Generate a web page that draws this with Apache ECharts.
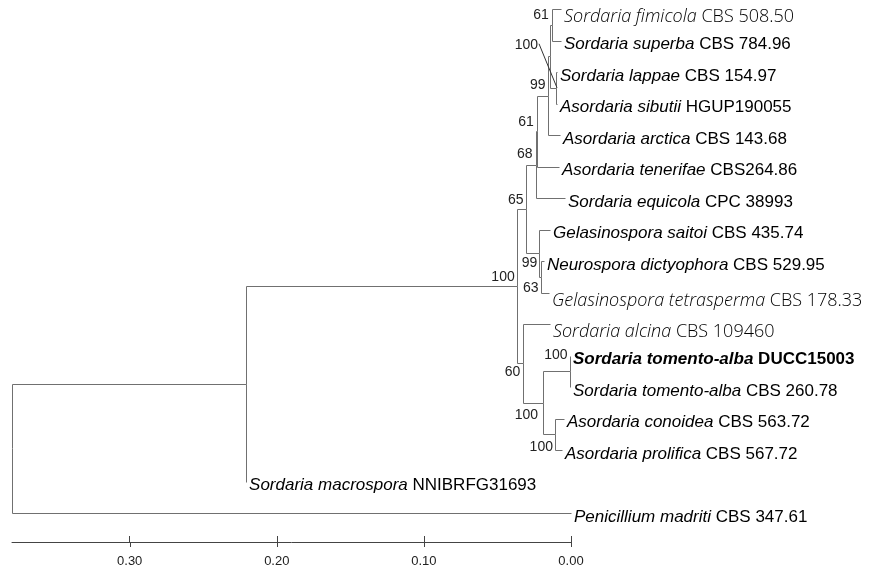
<!DOCTYPE html>
<html lang="en">
<head>
<meta charset="UTF-8">
<title>Sordaria tree</title>
<script src="https://cdn.jsdelivr.net/npm/echarts@6/dist/echarts.min.js"></script>
<style>
  html, body { margin: 0; padding: 0; background: #fff; }
  #chart { width: 893px; height: 572px; }
</style>
</head>
<body>
<div id="chart"></div>
<script>
// tips, top to bottom
var species = [
  'Sordaria fimicola', 'Sordaria superba', 'Sordaria lappae', 'Asordaria sibutii',
  'Asordaria arctica', 'Asordaria tenerifae', 'Sordaria equicola', 'Gelasinospora saitoi',
  'Neurospora dictyophora', 'Gelasinospora tetrasperma', 'Sordaria alcina',
  'Sordaria tomento-alba', 'Sordaria tomento-alba', 'Asordaria conoidea',
  'Asordaria prolifica', 'Sordaria macrospora', 'Penicillium madriti'
];
var strains = [
  'CBS 508.50', 'CBS 784.96', 'CBS 154.97', 'HGUP190055', 'CBS 143.68', 'CBS264.86',
  'CPC 38993', 'CBS 435.74', 'CBS 529.95', 'CBS 178.33', 'CBS 109460', 'DUCC15003',
  'CBS 260.78', 'CBS 563.72', 'CBS 567.72', 'NNIBRFG31693', 'CBS 347.61'
];
// distance of each tip on the scale axis
var tipDepth = [
  0.0068, 0.0068, 0.0095, 0.0095, 0.0075, 0.0082, 0.0041, 0.0143,
  0.0184, 0.0150, 0.0143, 0.0007, 0.0007, 0.0048, 0.0061, 0.2209, 0.0
];
// internal nodes (postorder); child index < 17 is a tip, else 17 + node index
var nodeChildren = [
  [0, 1], [2, 3], [17, 18], [19, 4], [20, 5], [21, 6],
  [8, 9], [7, 23], [22, 24],
  [11, 12], [13, 14], [26, 27], [10, 28],
  [25, 29], [30, 15], [31, 16]
];
var nodeDepth = [
  0.0131, 0.0102, 0.0146, 0.0153, 0.0233, 0.0241,
  0.0207, 0.0215, 0.0309,
  0.0010, 0.0109, 0.0190, 0.0324,
  0.0369, 0.2210, 0.38
];
var support = [
  '61', '100', '', '99', '61', '68',
  '63', '99', '65',
  '100', '100', '100', '60',
  '100', '', ''
];
var scaleTicks = [0, 0.1, 0.2, 0.3];

// styling only
var lightTips = [0, 9, 10];
var boldTip = 11;
var supportOffset = [
  [-3, -10], [-18, -43], [0, 0], [-3, -10], [-3, -9], [-3, -10],
  [-2, 11], [-2, 10], [-2, -9],
  [-2, -16], [-2, 13], [-5, 12], [-3, 9],
  [-2, -9], [0, 0], [0, 0]
];
var leaderNode = 1;
var axisOffset = 29;

var nTip = species.length;
var depth = tipDepth.concat(nodeDepth);
var row = species.map(function (s, i) { return i; });
nodeChildren.forEach(function (ch) {
  row.push((row[ch[0]] + row[ch[1]]) / 2);
});

var edges = [];
nodeChildren.forEach(function (ch, k) {
  var n = nTip + k;
  ch.forEach(function (c) {
    edges.push([depth[n], row[n], depth[c], row[c]]);
  });
});
var tipData = species.map(function (s, i) { return [tipDepth[i], i, i]; });
var supportData = [];
support.forEach(function (s, k) {
  if (s) supportData.push([nodeDepth[k], row[nTip + k], k]);
});

function px(v) { return Math.round(v) + 0.5; }

var chart = echarts.init(document.getElementById('chart'));
chart.setOption({
  animation: false,
  backgroundColor: '#fff',
  grid: { left: 12, right: 322, top: 9, bottom: 59 },
  xAxis: {
    type: 'value', min: 0, max: 0.38, inverse: true, position: 'bottom', offset: axisOffset,
    splitLine: { show: false },
    axisLine: { onZero: false, lineStyle: { color: '#444', width: 1 } },
    axisTick: { inside: true, length: 6, customValues: scaleTicks, lineStyle: { color: '#444' } },
    axisLabel: {
      customValues: scaleTicks, margin: 13, color: '#222', fontSize: 13,
      fontFamily: 'Liberation Sans',
      formatter: function (v) { return v.toFixed(2); }
    }
  },
  yAxis: { type: 'value', min: 0, max: 16, inverse: true, show: false },
  series: [{
    type: 'custom',
    data: edges,
    silent: true,
    renderItem: function (params, api) {
      var a = api.coord([api.value(0), api.value(1)]);
      var b = api.coord([api.value(2), api.value(3)]);
      return {
        type: 'polyline',
        shape: { points: [[px(a[0]), px(a[1])], [px(a[0]), px(b[1])], [px(b[0]), px(b[1])]] },
        style: { stroke: '#707070', lineWidth: 1, fill: null }
      };
    }
  }, {
    // lower half of the scale ticks (they cross the axis line)
    type: 'custom',
    data: scaleTicks.map(function (v) { return [v, 16]; }),
    silent: true,
    renderItem: function (params, api) {
      var p = api.coord([api.value(0), api.value(1)]);
      var y = Math.round(p[1]) + axisOffset;
      return {
        type: 'line',
        shape: { x1: px(p[0]), y1: y, x2: px(p[0]), y2: y + 5 },
        style: { stroke: '#444', lineWidth: 1 }
      };
    }
  }, {
    type: 'custom',
    data: tipData,
    silent: true,
    renderItem: function (params, api) {
      var i = api.value(2);
      var p = api.coord([api.value(0), api.value(1)]);
      var light = lightTips.indexOf(i) >= 0;
      var bold = i === boldTip;
      var fam = light ? 'Open Sans' : 'Liberation Sans';
      var size = light ? 18 : 17;
      var w = bold ? 'bold' : (light ? 300 : 'normal');
      return {
        type: 'text',
        x: p[0] + 3,
        y: p[1] + (light ? 8 : 4),
        style: {
          text: '{i|' + species[i] + '}{n| ' + strains[i] + '}',
          align: 'left', verticalAlign: 'middle',
          rich: {
            i: { fontStyle: 'italic', fontWeight: w, fontFamily: fam, fontSize: size, fill: '#000' },
            n: { fontWeight: w, fontFamily: fam, fontSize: size, fill: '#000' }
          }
        }
      };
    }
  }, {
    type: 'custom',
    data: supportData,
    silent: true,
    renderItem: function (params, api) {
      var k = api.value(2);
      var p = api.coord([api.value(0), api.value(1)]);
      var off = supportOffset[k];
      var children = [{
        type: 'text',
        x: p[0] + off[0], y: p[1] + off[1],
        style: {
          text: support[k], align: 'right', verticalAlign: 'middle',
          fontFamily: 'Liberation Sans', fontSize: 14, fill: '#222'
        }
      }];
      if (k === leaderNode) {
        children.push({
          type: 'line',
          shape: { x1: p[0] + off[0] + 1, y1: p[1] + off[1] - 1, x2: p[0] + 1, y2: p[1] },
          style: { stroke: '#333', lineWidth: 1 }
        });
      }
      return { type: 'group', children: children };
    }
  }]
});
</script>
</body>
</html>
